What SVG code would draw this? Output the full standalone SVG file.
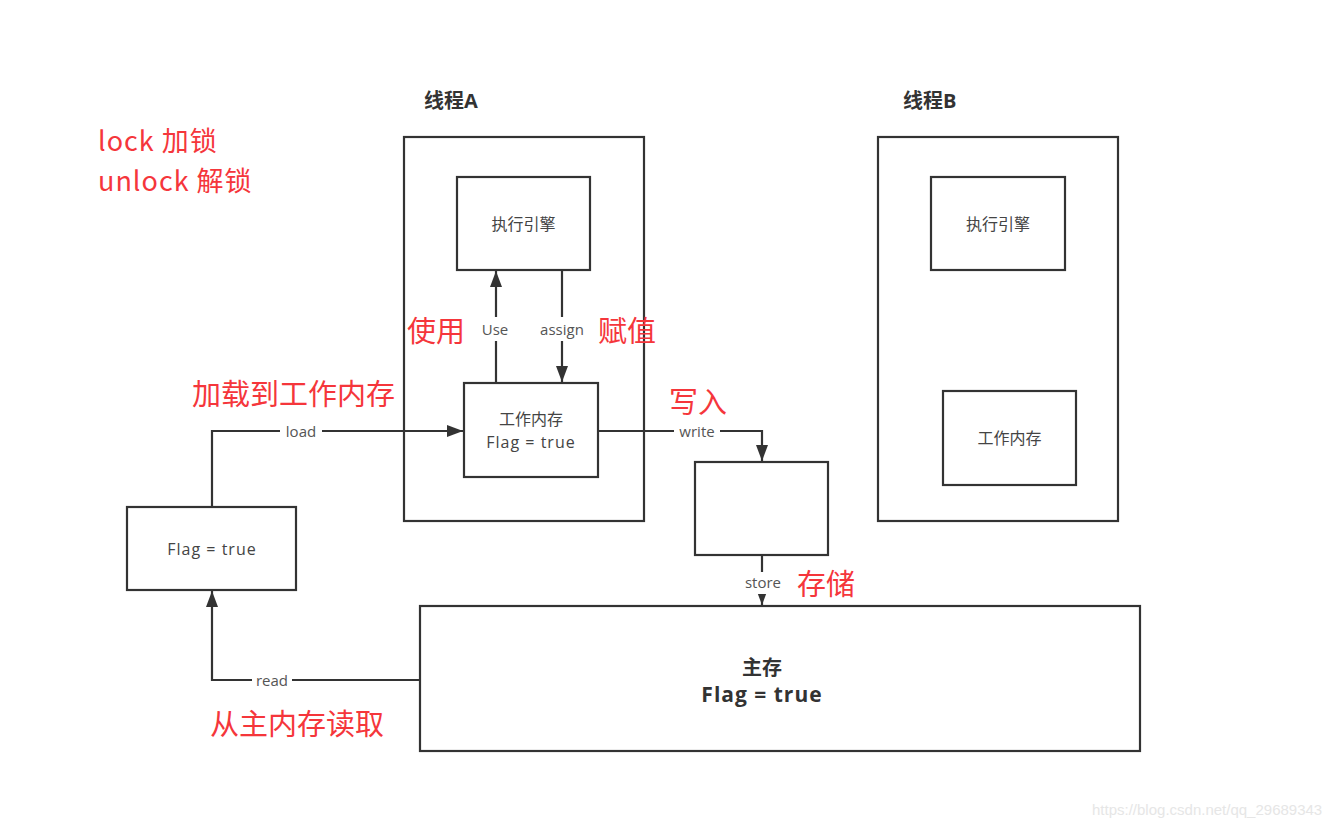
<svg xmlns="http://www.w3.org/2000/svg" width="1344" height="829" viewBox="0 0 1344 829">
<defs>
<marker id="arr" viewBox="0 0 16 12" refX="16" refY="6" markerWidth="16" markerHeight="12" markerUnits="userSpaceOnUse" orient="auto">
<path d="M0,0 L16,6 L0,12 z" fill="#333"/>
</marker>
<style>
.box{fill:#fff;stroke:#333;stroke-width:2.2}
.t{font-family:"Open Sans","Noto Sans CJK SC",sans-serif;font-size:16px;fill:#444;text-anchor:middle}
.f{letter-spacing:1px}
.lbl{font-family:"Open Sans","Noto Sans CJK SC",sans-serif;font-size:15px;fill:#555;text-anchor:middle}
.red{font-family:"Noto Sans CJK SC","Noto Sans",sans-serif;font-size:29px;fill:#f5363b}
.hd{font-family:"Open Sans","Noto Sans CJK SC",sans-serif;font-size:20px;font-weight:bold;fill:#333}
.c{fill:none;stroke:#333;stroke-width:2.2}
.bg{fill:#fff}
</style>
</defs>
<rect width="1344" height="829" fill="#fff"/>

<g id="threadA">
<rect class="box" x="404" y="137" width="240" height="384"/>
<text class="hd" x="424" y="108">线程A</text>
</g>
<g id="threadB">
<rect class="box" x="878" y="137" width="240" height="384"/>
<text class="hd" x="903" y="108">线程B</text>
</g>
<g id="execA">
<rect class="box" x="457" y="177" width="133" height="93"/>
<text class="t" x="523.5" y="230">执行引擎</text>
</g>
<g id="workA">
<rect class="box" x="464" y="383" width="134" height="94"/>
<text class="t" x="531" y="425">工作内存</text>
<text class="t f" x="531" y="448">Flag = true</text>
</g>
<g id="execB">
<rect class="box" x="931" y="177" width="134" height="93"/>
<text class="t" x="998" y="230">执行引擎</text>
</g>
<g id="workB">
<rect class="box" x="943" y="391" width="133" height="94"/>
<text class="t" x="1009.5" y="444">工作内存</text>
</g>
<g id="buffer">
<rect class="box" x="695" y="462" width="133" height="93"/>
</g>
<g id="flagLocal">
<rect class="box" x="127" y="507" width="169" height="83"/>
<text class="t f" x="212" y="555">Flag = true</text>
</g>
<g id="mainMem">
<rect class="box" x="420" y="606" width="720" height="145"/>
<text class="hd" x="762" y="675" text-anchor="middle">主存</text>
<text class="hd" x="762" y="702" text-anchor="middle" style="font-size:21px;letter-spacing:1px">Flag = true</text>
</g>

<g id="connectors">
<path class="c" d="M496,383 L496,271" marker-end="url(#arr)"/>
<path class="c" d="M562,270 L562,382" marker-end="url(#arr)"/>
<path class="c" d="M212,507 L212,431 L463,431" marker-end="url(#arr)"/>
<path class="c" d="M598,431 L762,431 L762,461" marker-end="url(#arr)"/>
<path class="c" d="M762,555 L762,605" marker-end="url(#arr)"/>
<path class="c" d="M420,680 L212,680 L212,591" marker-end="url(#arr)"/>

<rect class="bg" x="478" y="317" width="36" height="24"/>
<text class="lbl" x="495" y="335">Use</text>
<rect class="bg" x="534" y="317" width="56" height="24"/>
<text class="lbl" x="562" y="335">assign</text>
<rect class="bg" x="280" y="421" width="42" height="20"/>
<text class="lbl" x="301" y="437">load</text>
<rect class="bg" x="674" y="421" width="46" height="20"/>
<text class="lbl" x="697" y="437">write</text>
<rect class="bg" x="740" y="572" width="46" height="22"/>
<text class="lbl" x="763" y="588">store</text>
<rect class="bg" x="252" y="670" width="40" height="20"/>
<text class="lbl" x="272" y="686">read</text>
</g>

<g id="notes">
<text class="red" x="98" y="151" style="font-size:27px;letter-spacing:1px">lock 加锁</text>
<text class="red" x="98" y="191" style="font-size:27px;letter-spacing:1px">unlock 解锁</text>
<text class="red" x="407" y="342">使用</text>
<text class="red" x="598" y="342">赋值</text>
<text class="red" x="192" y="405">加载到工作内存</text>
<text class="red" x="669" y="413">写入</text>
<text class="red" x="797" y="595">存储</text>
<text class="red" x="210" y="735">从主内存读取</text>
</g>
<text x="1092" y="815" font-family="Liberation Sans, sans-serif" font-size="15" fill="#e6e6e6">https://blog.csdn.net/qq_29689343</text>
</svg>
